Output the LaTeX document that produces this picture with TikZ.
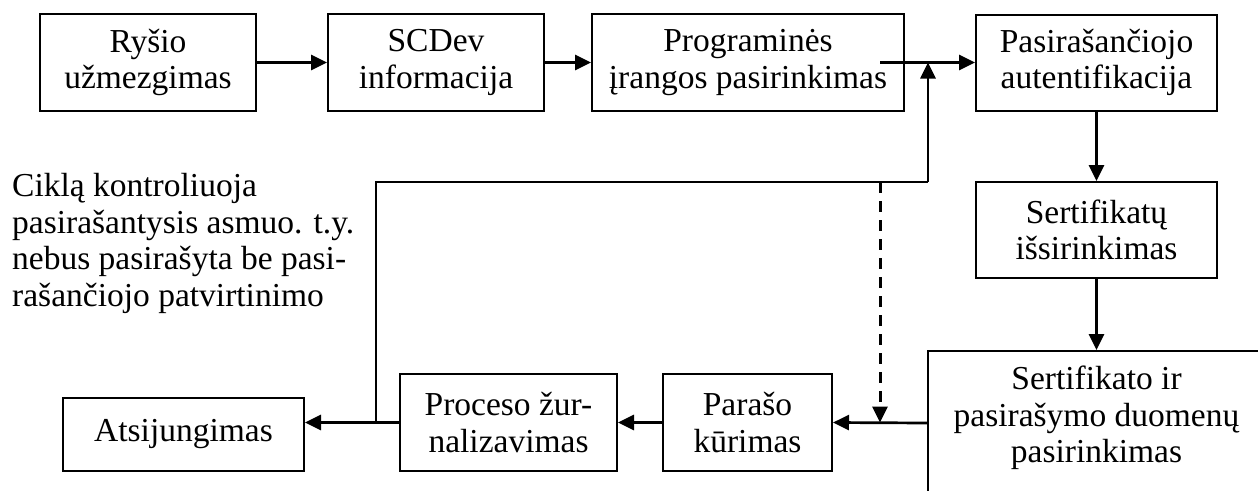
\documentclass[tikz,border=0pt]{standalone}
\usepackage{fontspec}
\setmainfont{Liberation Serif}
\usetikzlibrary{arrows.meta}
\begin{document}
\begin{tikzpicture}[x=1pt,y=-1pt,
  txt/.style={font=\fontsize{33.5}{36.5}\selectfont},
  box/.style={draw, line width=2pt, inner sep=0pt, align=center, txt},
  arr/.style={line width=2.7pt, -{Triangle[length=16pt,width=15pt]}},
  loopline/.style={line width=2pt}]
\useasboundingbox (0,0) rectangle (1258,490);
\clip (0,0) rectangle (1258,490);
% top row
\node[box, minimum width=216pt, minimum height=97pt] (b1) at (148,62.5) {Ryšio\\užmezgimas};
\node[box, minimum width=216pt, minimum height=97pt] (b2) at (436,62.5) {SCDev\\informacija};
\node[box, minimum width=312pt, minimum height=97pt] (b3) at (748,62.5) {Programinės\\įrangos pasirinkimas};
\node[box, minimum width=241pt, minimum height=96pt] (b4) at (1096.5,62.5) {Pasirašančiojo\\autentifikacija};
% right column
\node[box, minimum width=241pt, minimum height=96pt] (b5) at (1096.5,230) {Sertifikatų\\išsirinkimas};
\node[draw, line width=2pt, minimum width=337pt, minimum height=144pt, inner sep=0pt] (b6) at (1096.5,423) {};
\node[txt, align=center, inner sep=0pt] (b6t) at (1096.5,418) {Sertifikato ir\\pasirašymo duomenų\\pasirinkimas};
% bottom row
\node[box, minimum width=169pt, minimum height=97pt] (b7) at (747.5,422.5) {Parašo\\kūrimas};
\node[box, minimum width=217pt, minimum height=97pt] (b8) at (508.5,422.5) {Proceso žur-\\nalizavimas};
\node[box, minimum width=241pt, minimum height=73pt] (b9) at (183.5,434.5) {Atsijungimas};
% note
\node[txt, anchor=north west, inner sep=0pt, align=left] (note) at (12,173.5)
  {Ciklą kontroliuoja\\pasirašantysis asmuo. t.y.\\nebus pasirašyta be pasi-\\rašančiojo patvirtinimo};
% junction coordinates
\coordinate (j1) at (376,422.5);
\coordinate (j2) at (376,182);
\coordinate (j3) at (928,182);
\coordinate (j4) at (928,62.5);
\coordinate (d1) at (880,182);
\coordinate (d2) at (880,422.5);
% connectors
\draw[arr] (b1.east) -- (b2.west);
\draw[arr] (b2.east) -- (b3.west);
\draw[arr] ([xshift=-25pt]b3.east) -- (b4.west);
\draw[arr] (b4.south) -- (b5.north);
\draw[arr] (b5.south) -- (b6.north);
\draw[arr] (b6.west) -- (b7.east);
\draw[arr] (b7.west) -- (b8.east);
\draw[arr] (b8.west) -- (b9.east |- b8.west);
\draw[loopline] (j1) -- (j2) -- (j3);
\draw[arr] (j3) -- (j4);
\draw[arr, line width=3pt, dash pattern=on 11pt off 8pt] (d1) -- (d2);
\end{tikzpicture}
\end{document}
